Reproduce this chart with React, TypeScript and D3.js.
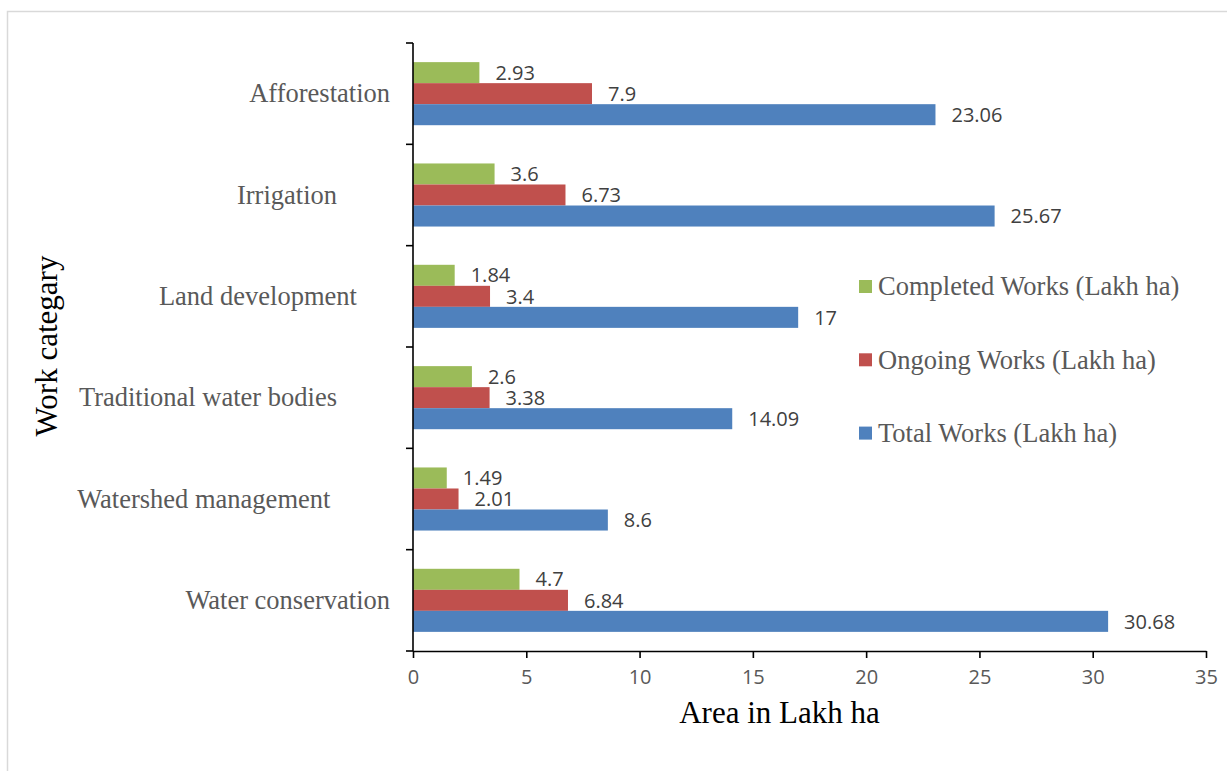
import { useRef, useEffect } from "react";
import * as d3 from "d3";

// trailing spaces are part of the original category labels
const categories = [
  "Afforestation",
  "Irrigation        ",
  "Land development     ",
  "Traditional water bodies        ",
  "Watershed management         ",
  "Water conservation",
];
const seriesNames = [
  "Completed Works (Lakh ha)",
  "Ongoing Works (Lakh ha)",
  "Total Works (Lakh ha)",
];
const completed = [2.93, 3.6, 1.84, 2.6, 1.49, 4.7];
const ongoing = [7.9, 6.73, 3.4, 3.38, 2.01, 6.84];
const total = [23.06, 25.67, 17, 14.09, 8.6, 30.68];
const xTicks = [0, 5, 10, 15, 20, 25, 30, 35];

const colors = ["#9BBB59", "#C0504D", "#4F81BD"];

export default function App() {
  const chartRef = useRef<HTMLDivElement>(null);

  useEffect(() => {
    if (!chartRef.current) return;
    d3.select(chartRef.current).selectAll("*").remove();

    const width = 1227;
    const height = 771;
    const margin = { top: 43, right: 21, bottom: 120, left: 413 };

    const svg = d3
      .select(chartRef.current)
      .append("svg")
      .attr("width", width)
      .attr("height", height)
      .style("display", "block");

    // outer chart frame (only top and left visible)
    svg
      .append("path")
      .attr("d", `M7.5,${height} V11.5 H${width}`)
      .attr("fill", "none")
      .attr("stroke", "#d9d9d9")
      .attr("stroke-width", 1.5);

    const x = d3
      .scaleLinear()
      .domain([0, 35])
      .range([margin.left, width - margin.right]);

    const y = d3
      .scaleBand()
      .domain(categories)
      .range([margin.top, height - margin.bottom]);

    const inner = d3
      .scaleBand()
      .domain(seriesNames)
      .range([0, y.bandwidth()])
      .paddingOuter(0.91);

    const rows = categories.map((c, i) => ({
      category: c,
      values: [completed[i], ongoing[i], total[i]],
    }));

    const groups = svg
      .selectAll("g.group")
      .data(rows)
      .enter()
      .append("g")
      .attr("class", "group")
      .attr("transform", (d) => `translate(0,${y(d.category)})`);

    groups
      .selectAll("rect")
      .data((d) => d.values.map((v, j) => ({ v, j })))
      .enter()
      .append("rect")
      .attr("x", x(0))
      .attr("y", (d) => inner(seriesNames[d.j])!)
      .attr("width", (d) => x(d.v) - x(0))
      .attr("height", inner.bandwidth())
      .attr("fill", (d) => colors[d.j]);

    // value labels
    groups
      .selectAll("text.val")
      .data((d) => d.values.map((v, j) => ({ v, j })))
      .enter()
      .append("text")
      .attr("class", "val")
      .attr("x", (d) => x(d.v) + 16)
      .attr("y", (d) => inner(seriesNames[d.j])! + inner.bandwidth() / 2)
      .attr("dy", "0.36em")
      .attr("font-family", "'Open Sans', sans-serif")
      .attr("font-size", "20px")
      .attr("fill", "#404040")
      .text((d) => String(d.v));

    // category labels
    svg
      .selectAll("text.cat")
      .data(categories)
      .enter()
      .append("text")
      .attr("class", "cat")
      .attr("x", margin.left - 23)
      .attr("y", (d) => y(d)! + y.bandwidth() / 2)
      .attr("dy", "0.33em")
      .attr("text-anchor", "end")
      .style("white-space", "pre")
      .attr("font-family", "'Liberation Serif', 'Times New Roman', serif")
      .attr("font-size", "26.5px")
      .attr("fill", "#595959")
      .text((d) => d);

    // Y axis line + ticks at category boundaries
    const yAxisG = svg.append("g").attr("stroke", "#000").attr("stroke-width", 1.6);
    yAxisG
      .append("line")
      .attr("x1", margin.left)
      .attr("x2", margin.left)
      .attr("y1", margin.top)
      .attr("y2", height - margin.bottom);
    const boundaries = categories.map((c) => y(c)!).concat([height - margin.bottom]);
    yAxisG
      .selectAll("line.tick")
      .data(boundaries)
      .enter()
      .append("line")
      .attr("class", "tick")
      .attr("x1", margin.left - 7)
      .attr("x2", margin.left)
      .attr("y1", (d) => d)
      .attr("y2", (d) => d);

    // X axis
    const xAxis = d3
      .axisBottom(x)
      .tickValues(xTicks)
      .tickSize(7)
      .tickSizeOuter(0)
      .tickPadding(12)
      .tickFormat((d) => String(d));
    const xg = svg
      .append("g")
      .attr("transform", `translate(0,${height - margin.bottom})`)
      .call(xAxis);
    xg.select(".domain").attr("stroke", "#000").attr("stroke-width", 1.6);
    xg.selectAll(".tick line").attr("stroke", "#000").attr("stroke-width", 1.6);
    xg.selectAll(".tick text")
      .attr("font-family", "'Open Sans', sans-serif")
      .attr("font-size", "20px")
      .attr("fill", "#595959");

    // axis titles
    svg
      .append("text")
      .attr("x", (x(0) + x(35)) / 2 - 30)
      .attr("y", 723)
      .attr("text-anchor", "middle")
      .attr("font-family", "'Liberation Serif', 'Times New Roman', serif")
      .attr("font-size", "31px")
      .attr("fill", "#000")
      .text("Area in Lakh ha");

    svg
      .append("text")
      .attr("transform", "translate(57,346) rotate(-90)")
      .attr("text-anchor", "middle")
      .attr("font-family", "'Liberation Serif', 'Times New Roman', serif")
      .attr("font-size", "31px")
      .attr("fill", "#000")
      .text("Work categary");

    // Legend
    const legend = svg.append("g").attr("transform", "translate(859,286.5)");
    const item = legend
      .selectAll("g")
      .data(seriesNames)
      .enter()
      .append("g")
      .attr("transform", (_d, i) => `translate(0,${i * 73.3})`);
    item
      .append("rect")
      .attr("x", 0)
      .attr("y", -6.5)
      .attr("width", 13)
      .attr("height", 13)
      .attr("fill", (_d, i) => colors[i]);
    item
      .append("text")
      .attr("x", 19)
      .attr("y", 0)
      .attr("dy", "0.33em")
      .attr("font-family", "'Liberation Serif', 'Times New Roman', serif")
      .attr("font-size", "26.5px")
      .attr("fill", "#595959")
      .text((d) => d);
  }, []);

  return (
    <div style={{ position: "absolute", left: 0, top: 0 }}>
      <div ref={chartRef}></div>
    </div>
  );
}
